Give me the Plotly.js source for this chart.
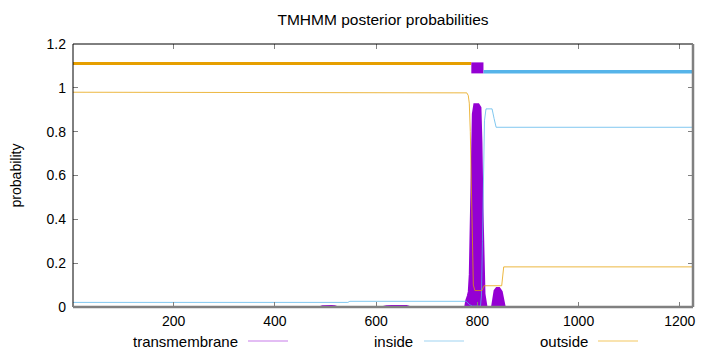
<!DOCTYPE html>
<html><head><meta charset="utf-8">
<script src="https://cdn.plot.ly/plotly-3.0.1.min.js"></script>
<style>html,body{margin:0;padding:0;background:#fff}#chart{width:720px;height:352px}</style>
</head><body><div id="chart"></div>
<script>
// ---- data ----
const seqLength = 1226;
const xTicks = [200, 400, 600, 800, 1000, 1200];
const yTicks = [0, 0.2, 0.4, 0.6, 0.8, 1, 1.2];
const yTickText = ['0', '0.2', '0.4', '0.6', '0.8', '1', '1.2'];

const seriesNames = ['transmembrane', 'inside', 'outside'];

// transmembrane posterior probability
const tmX = [1, 490, 494, 500, 506, 512, 518, 522, 614, 620, 630, 640, 650, 660, 666, 776, 778, 781, 783, 785, 787, 789, 791, 794, 798, 802, 806, 808, 810, 812, 814, 816, 818, 829, 831, 834, 838, 843, 848, 851, 854, 1226];
const tmY = [0, 0, 0.004, 0.005, 0.004, 0.005, 0.004, 0, 0, 0.004, 0.005, 0.003, 0.004, 0.005, 0, 0, 0.03, 0.05, 0.07, 0.15, 0.40, 0.70, 0.88, 0.925, 0.925, 0.925, 0.91, 0.75, 0.45, 0.15, 0.06, 0.03, 0, 0, 0.04, 0.075, 0.087, 0.087, 0.07, 0.04, 0, 0];

// inside posterior probability
const insideX = [1, 544, 548, 778, 784, 790, 806, 808, 810, 812, 814, 817, 829, 833, 837, 1226];
const insideY = [0.021, 0.021, 0.026, 0.026, 0.012, 0.004, 0.004, 0.05, 0.30, 0.62, 0.85, 0.904, 0.904, 0.86, 0.82, 0.82];

// outside posterior probability
const outsideX = [1, 492, 496, 779, 782, 784, 786, 788, 790, 792, 795, 809, 813, 848, 852, 1226];
const outsideY = [0.980, 0.980, 0.977, 0.977, 0.965, 0.93, 0.80, 0.55, 0.28, 0.10, 0.075, 0.075, 0.097, 0.097, 0.183, 0.183];

// predicted topology segments (drawn as bars above the curves)
const segStart = [1, 788, 812];
const segEnd = [788, 812, 1226];
const segLevel = [1.111, 1.091, 1.073];
const segType = ['outside', 'transmembrane', 'inside'];

// ---- styling ----
const colors = {transmembrane: '#9400d3', inside: '#56b4e9', outside: '#e69f00'};
const legendColors = {transmembrane: '#c77dea', inside: '#9fd3f2', outside: '#f3c761'};
const segWidth = {outside: 3, transmembrane: 11, inside: 3.5};
const FONT = 'Liberation Sans, Arial, Helvetica, sans-serif';

const traces = [
  {x: tmX, y: tmY, type: 'scatter', mode: 'lines', fill: 'tozeroy',
   line: {color: colors.transmembrane, width: 2}, fillcolor: colors.transmembrane,
   name: 'transmembrane', showlegend: false, hoverinfo: 'x+y'},
  {x: insideX, y: insideY, type: 'scatter', mode: 'lines',
   line: {color: colors.inside, width: 1}, opacity: 0.75,
   name: 'inside', showlegend: false},
  {x: outsideX, y: outsideY, type: 'scatter', mode: 'lines',
   line: {color: colors.outside, width: 1}, opacity: 0.75,
   name: 'outside', showlegend: false}
];
for (let i = 0; i < segStart.length; i++) {
  traces.push({x: [segStart[i], segEnd[i]], y: [segLevel[i], segLevel[i]],
    type: 'scatter', mode: 'lines', showlegend: false,
    line: {color: colors[segType[i]], width: segWidth[segType[i]]}, name: segType[i]});
}

// legend drawn gnuplot-style: text followed by sample line
const legendTextRight = [240, 415, 590];
const legendLineStart = [248, 424, 598];
const legendLineLen = 40;
const legendY = 341;
const plotL = 73, plotR = 693, plotT = 44, plotB = 307;
const px2x = p => (p - plotL) / (plotR - plotL);
const px2y = p => (plotB - p) / (plotB - plotT);

const annotations = [];
const shapes = [
  {type: 'line', xref: 'paper', yref: 'paper', x0: 0, x1: 1, y0: 1, y1: 1, line: {color: '#000', width: 1}},
  {type: 'line', xref: 'paper', yref: 'paper', x0: 0, x1: 0, y0: 0, y1: 1, line: {color: '#000', width: 1}},
  {type: 'line', xref: 'paper', yref: 'paper', x0: 0, x1: 1, y0: 0, y1: 0, line: {color: '#808080', width: 2.5}},
  {type: 'line', xref: 'paper', yref: 'paper', x0: 1, x1: 1, y0: 0, y1: 1, line: {color: '#808080', width: 2.5}}
];
seriesNames.forEach((n, i) => {
  annotations.push({xref: 'paper', yref: 'paper', x: px2x(legendTextRight[i]), y: px2y(legendY),
    xanchor: 'right', yanchor: 'middle', text: n, showarrow: false,
    font: {family: FONT, size: 15, color: '#000'}});
  shapes.push({type: 'line', xref: 'paper', yref: 'paper',
    x0: px2x(legendLineStart[i]), x1: px2x(legendLineStart[i] + legendLineLen),
    y0: px2y(legendY), y1: px2y(legendY), line: {color: legendColors[n], width: 1.2}});
});

const layout = {
  width: 720, height: 352,
  margin: {l: plotL, r: 720 - plotR, t: plotT, b: 352 - plotB, pad: 0},
  paper_bgcolor: '#fff', plot_bgcolor: '#fff',
  font: {family: FONT, size: 14, color: '#000'},
  title: {text: 'TMHMM posterior probabilities', font: {family: FONT, size: 15.5, color: '#000'},
          x: 0.5, xref: 'paper', xanchor: 'center', y: 1 - 20 / 352, yref: 'container', yanchor: 'middle'},
  xaxis: {range: [1, seqLength], tickvals: xTicks, ticks: 'inside', ticklen: 5, tickcolor: '#808080',
          mirror: 'ticks', showline: false, showgrid: false, zeroline: false,
          tickfont: {family: FONT, size: 14, color: '#000'}, ticklabelstandoff: 4},
  yaxis: {range: [0, 1.2], tickvals: yTicks, ticktext: yTickText, ticks: 'inside', ticklen: 5, tickcolor: '#808080',
          mirror: 'ticks', showline: false, showgrid: false, zeroline: false,
          tickfont: {family: FONT, size: 14, color: '#000'}, ticklabelstandoff: 6,
          title: {text: 'probability', font: {family: FONT, size: 14, color: '#000'}, standoff: 21}},
  shapes: shapes,
  annotations: annotations,
  showlegend: false
};

Plotly.newPlot('chart', traces, layout, {displayModeBar: false, staticPlot: true});
</script></body></html>
